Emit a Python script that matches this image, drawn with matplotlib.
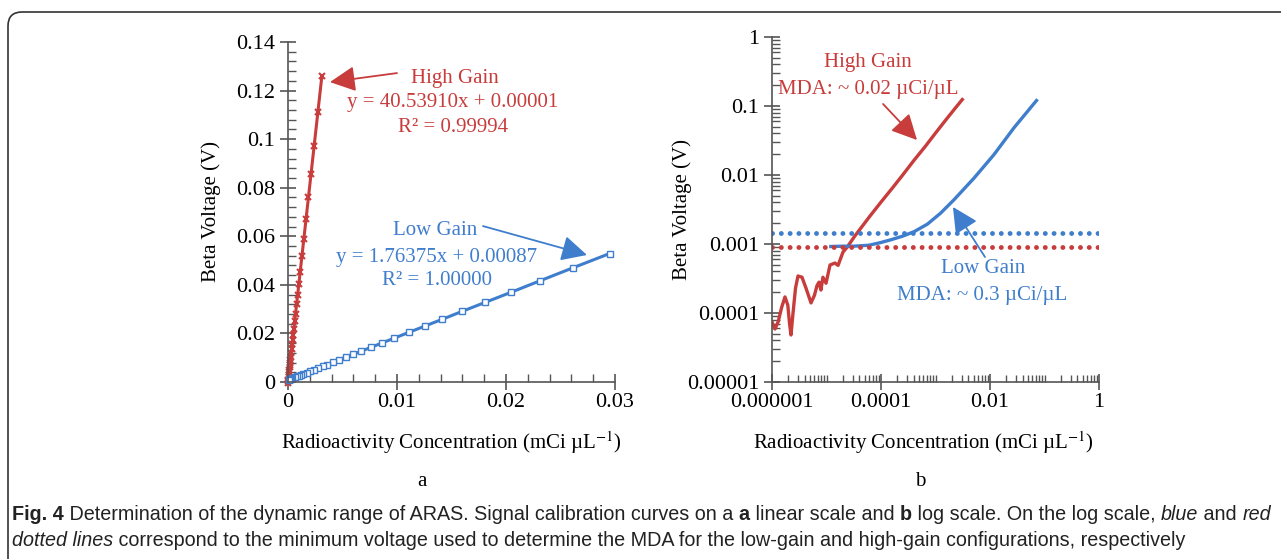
import matplotlib
matplotlib.use("Agg")
import matplotlib.pyplot as plt
from matplotlib.ticker import FixedLocator, FixedFormatter, MultipleLocator
from matplotlib.patches import FancyBboxPatch
from matplotlib.transforms import IdentityTransform

plt.rcParams['font.family'] = ['Liberation Serif', 'DejaVu Serif']
plt.rcParams['mathtext.fontset'] = 'stix'

RED = '#c83c3c'
BLUE = '#3f7dcd'

# ---- panel a: linear calibration data
high_x = [0.003108, 0.002738, 0.002393, 0.002109, 0.001875, 0.001653, 0.001455, 0.001283,
          0.001122, 0.000999, 0.000888, 0.000789, 0.000691, 0.000617, 0.000543, 0.000481,
          0.000432, 0.000382, 0.000333, 0.000296, 0.000259, 0.000222, 0.000197, 0.000173,
          0.000148, 0.000123, 0.0000987, 0.0000740, 0.0000493, 0.0000247, 0.0000123, 0.0]
high_y = [0.126, 0.111, 0.097, 0.0855, 0.076, 0.067, 0.059, 0.052,
          0.0455, 0.0405, 0.036, 0.032, 0.028, 0.025, 0.022, 0.0195,
          0.0175, 0.0155, 0.0135, 0.012, 0.0105, 0.009, 0.008, 0.007,
          0.006, 0.005, 0.004, 0.003, 0.002, 0.001, 0.0005, -0.0005]

low_x = [0.02951, 0.02613, 0.02308, 0.02044, 0.01810, 0.01598, 0.01414, 0.01254,
         0.01107, 0.00977, 0.00864, 0.00762, 0.00673, 0.00596, 0.00532, 0.00467,
         0.00412, 0.00360, 0.00317, 0.00277, 0.00237, 0.00200, 0.0017, 0.0014,
         0.0012, 0.0010, 0.0008, 0.0006, 0.0004, 0.0003, 0.0002, 0.0001, 0.00005]
low_y = [0.0529, 0.0470, 0.0416, 0.0369, 0.0328, 0.0291, 0.0258, 0.0230,
         0.0204, 0.0181, 0.0161, 0.0143, 0.0127, 0.0114, 0.0103, 0.0091,
         0.0081, 0.0072, 0.0065, 0.0058, 0.0051, 0.0044, 0.0039, 0.0033,
         0.0030, 0.0026, 0.0023, 0.0019, 0.0016, 0.0014, 0.0012, 0.0011, 0.0010]

# ---- panel b: log scale curves
red_log_x = [1.0e-6, 1.135e-6, 1.3e-6, 1.5e-6, 1.73e-6, 1.95e-6, 2.1e-6, 2.23e-6, 2.4e-6,
             2.7e-6, 3.0e-6, 3.55e-6, 4.2e-6, 5.2e-6, 6.0e-6, 6.7e-6, 7.3e-6, 7.9e-6,
             8.6e-6, 9.8e-6, 1.16e-5, 1.43e-5, 1.63e-5, 2.01e-5, 2.37e-5, 3.3e-5, 6.3e-5,
             1.0e-4, 1.6e-4, 2.5e-4, 4.0e-4, 6.5e-4, 1.0e-3, 1.6e-3, 2.2e-3, 3.1e-3]
red_log_y = [7.4e-5, 5.86e-5, 7.5e-5, 1.2e-4, 1.71e-4, 1.3e-4, 7.0e-5, 4.8e-5, 9.0e-5,
             2.3e-4, 3.44e-4, 3.3e-4, 2.3e-4, 1.4e-4, 1.8e-4, 2.5e-4, 2.8e-4, 2.15e-4,
             3.3e-4, 2.7e-4, 4.96e-4, 5.3e-4, 4.9e-4, 7.66e-4, 8.9e-4, 1.3e-3, 2.55e-3,
             4.05e-3, 6.4e-3, 1.0e-2, 1.62e-2, 2.6e-2, 4.05e-2, 6.5e-2, 8.9e-2, 0.124]

blue_log_x = [1.2e-5, 2.0e-5, 3.2e-5, 6.0e-5, 9.9e-5, 1.51e-4, 2.5e-4, 4.05e-4, 7.1e-4,
              1.24e-3, 2.18e-3, 5.08e-3, 1.18e-2, 2.74e-2, 7.13e-2]
blue_log_y = [9.2e-4, 9.3e-4, 9.3e-4, 9.6e-4, 1.05e-3, 1.15e-3, 1.3e-3, 1.51e-3, 1.94e-3,
              2.8e-3, 4.37e-3, 9.0e-3, 1.97e-2, 4.81e-2, 0.12]

mda_low = 0.00145
mda_high = 0.00089

a_yticks = [0, 0.02, 0.04, 0.06, 0.08, 0.1, 0.12, 0.14]
a_yticklabels = ['0', '0.02', '0.04', '0.06', '0.08', '0.1', '0.12', '0.14']
a_xticks = [0, 0.01, 0.02, 0.03]
a_xticklabels = ['0', '0.01', '0.02', '0.03']
b_yticks = [1e-5, 1e-4, 1e-3, 1e-2, 1e-1, 1]
b_yticklabels = ['0.00001', '0.0001', '0.001', '0.01', '0.1', '1']
b_xticks = [1e-6, 1e-4, 1e-2, 1]
b_xticklabels = ['0.000001', '0.0001', '0.01', '1']

fig = plt.figure(figsize=(12.81, 5.59), dpi=100)

def style_axes(ax):
    for s in ['top', 'right']:
        ax.spines[s].set_visible(False)
    for s in ['left', 'bottom']:
        ax.spines[s].set_color('#555555')
        ax.spines[s].set_linewidth(1.2)
    ax.tick_params(which='major', direction='inout', length=12, width=1.2,
                   color='#555555', labelsize=16)
    ax.tick_params(which='minor', direction='in', length=6, width=1.0, color='#555555')
    ax.tick_params(axis='x', which='major', pad=2)
    ax.tick_params(axis='y', which='major', pad=3)

arrow_kw = dict(arrowstyle='-|>,head_length=0.6,head_width=0.3', lw=1.3,
                mutation_scale=26, shrinkA=0, shrinkB=0)

# ---------------- panel a
ax1 = fig.add_axes([288/1281, 177/559, 327/1281, 340/559])
ax1.plot(high_x, high_y, color=RED, lw=2.2, marker='x', ms=5, mew=1.5)
ax1.plot(low_x, low_y, color=BLUE, lw=2.2, marker='s', ms=5, mfc='white', mew=1.0)
ax1.set_xlim(0, 0.03)
ax1.set_ylim(0, 0.14)
ax1.yaxis.set_major_locator(FixedLocator(a_yticks))
ax1.yaxis.set_major_formatter(FixedFormatter(a_yticklabels))
ax1.xaxis.set_major_locator(FixedLocator(a_xticks))
ax1.xaxis.set_major_formatter(FixedFormatter(a_xticklabels))
ax1.yaxis.set_minor_locator(MultipleLocator(0.004))
ax1.xaxis.set_minor_locator(MultipleLocator(0.002))
style_axes(ax1)
for line in ax1.get_lines():
    line.set_clip_on(False)
ax1.set_ylabel('Beta Voltage (V)', fontsize=15)
ax1.yaxis.set_label_coords(-0.205, 0.5)
ax1.set_xlabel(r'Radioactivity Concentration (mCi µL$^{-1}$)', fontsize=15)
ax1.xaxis.set_label_coords(0.5, -0.14)

ax1.text(0.01532, 0.1248, 'High Gain', color=RED, fontsize=15, ha='center', va='center')
ax1.text(0.01514, 0.1149, 'y = 40.53910x + 0.00001', color=RED, fontsize=15, ha='center', va='center')
ax1.text(0.01514, 0.1050, 'R² = 0.99994', color=RED, fontsize=15, ha='center', va='center')
ax1.annotate('', xy=(0.00385, 0.1235), xytext=(0.0100, 0.1272),
             arrowprops=dict(color=RED, **arrow_kw))
ax1.text(0.01349, 0.0622, 'Low Gain', color=BLUE, fontsize=15, ha='center', va='center')
ax1.text(0.01367, 0.0511, 'y = 1.76375x + 0.00087', color=BLUE, fontsize=15, ha='center', va='center')
ax1.text(0.01367, 0.0416, 'R² = 1.00000', color=BLUE, fontsize=15, ha='center', va='center')
ax1.annotate('', xy=(0.02743, 0.0523), xytext=(0.01789, 0.0642),
             arrowprops=dict(color=BLUE, **arrow_kw))

# ---------------- panel b
ax2 = fig.add_axes([772/1281, 177/559, 327/1281, 345/559])
ax2.set_xscale('log')
ax2.set_yscale('log')
ax2.plot(red_log_x, red_log_y, color=RED, lw=2.4, solid_joinstyle='round')
ax2.plot(blue_log_x, blue_log_y, color=BLUE, lw=2.4, solid_joinstyle='round')
ax2.plot([1e-6, 1], [mda_low, mda_low], color=BLUE, lw=3.5, ls=(0, (0.01, 1.8)),
         dash_capstyle='round')
ax2.plot([1e-6, 1], [mda_high, mda_high], color=RED, lw=3.5, ls=(0, (0.01, 1.8)),
         dash_capstyle='round')
ax2.set_xlim(1e-6, 1)
ax2.set_ylim(1e-5, 1)
ax2.yaxis.set_major_locator(FixedLocator(b_yticks))
ax2.yaxis.set_major_formatter(FixedFormatter(b_yticklabels))
ax2.xaxis.set_major_locator(FixedLocator(b_xticks))
ax2.xaxis.set_major_formatter(FixedFormatter(b_xticklabels))
ax2.yaxis.set_minor_locator(FixedLocator([m * 10.0**e for e in range(-5, 0) for m in range(2, 10)]))
ax2.xaxis.set_minor_locator(FixedLocator([m * 10.0**e for e in range(-6, 0) for m in range(1, 10)
                                          if not (m == 1 and e % 2 == 0)]))
ax2.yaxis.set_minor_formatter(FixedFormatter([]))
ax2.xaxis.set_minor_formatter(FixedFormatter([]))
style_axes(ax2)
ax2.tick_params(axis='x', which='minor', length=5)
ax2.set_ylabel('Beta Voltage (V)', fontsize=15)
ax2.yaxis.set_label_coords(-0.245, 0.5)
ax2.set_xlabel(r'Radioactivity Concentration (mCi µL$^{-1}$)', fontsize=15)
ax2.xaxis.set_label_coords(0.462, -0.138)

ax2.text(5.77e-5, 0.42, 'High Gain', color=RED, fontsize=15, ha='center', va='center')
ax2.text(5.77e-5, 0.176, 'MDA: ~ 0.02 µCi/µL', color=RED, fontsize=15, ha='center', va='center')
ax2.annotate('', xy=(4.58e-4, 0.0321), xytext=(1.09e-4, 0.107),
             arrowprops=dict(color=RED, **arrow_kw))
ax2.text(7.44e-3, 4.35e-4, 'Low Gain', color=BLUE, fontsize=15, ha='center', va='center')
ax2.text(7.13e-3, 1.82e-4, 'MDA: ~ 0.3 µCi/µL', color=BLUE, fontsize=15, ha='center', va='center')
ax2.annotate('', xy=(2.09e-3, 3.44e-3), xytext=(8.09e-3, 6.48e-4),
             arrowprops=dict(color=BLUE, **arrow_kw))

fig.text(422/1281, 1 - 481/559, 'a', fontsize=15, ha='center', va='center')
fig.text(920/1281, 1 - 481/559, 'b', fontsize=15, ha='center', va='center')

# border
fig.patches.append(FancyBboxPatch((8, -40), 1320, 587, boxstyle='round,pad=0,rounding_size=14',
                                  transform=IdentityTransform(), fill=False,
                                  edgecolor='#333333', lw=1.2))

# caption, drawn piece by piece
cap_font = ['Liberation Sans Narrow', 'Liberation Sans', 'DejaVu Sans']
lines = [
    [('Fig. 4', 'bold', 'normal'),
     (' Determination of the dynamic range of ARAS. Signal calibration curves on a ', 'normal', 'normal'),
     ('a', 'bold', 'normal'), (' linear scale and ', 'normal', 'normal'),
     ('b', 'bold', 'normal'), (' log scale. On the log scale, ', 'normal', 'normal'),
     ('blue', 'normal', 'italic'), (' and ', 'normal', 'normal'), ('red', 'normal', 'italic')],
    [('dotted lines', 'normal', 'italic'),
     (' correspond to the minimum voltage used to determine the MDA for the low-gain and high-gain configurations, respectively',
      'normal', 'normal')],
]
renderer = fig.canvas.get_renderer()
baselines = [559 - 520, 559 - 546]
for parts, yb in zip(lines, baselines):
    x = 12
    for txt, wt, st in parts:
        t = fig.text(x / 1281, yb / 559, txt, family=cap_font, fontsize=14.2, weight=wt,
                     style=st, va='baseline', ha='left', color='#222222')
        bb = t.get_window_extent(renderer)
        x += bb.width

fig.savefig('out.png', dpi=100)
